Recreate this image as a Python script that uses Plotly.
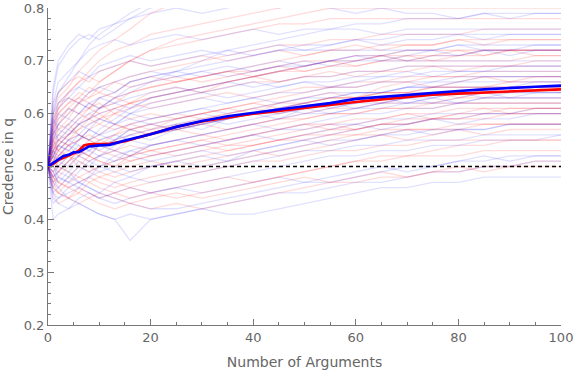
import plotly.graph_objects as go

run_x = [0, 1, 2, 4, 6, 8, 10, 13, 16, 20, 25, 30, 35, 40, 45, 50, 55, 60, 65, 70, 75, 80, 85, 90, 95, 100]

red_runs = [
    [.5,.48,.47,.46,.45,.44,.45,.44,.43,.42,.43,.42,.43,.44,.45,.46,.47,.47,.48,.48,.49,.49,.50,.50,.50,.50],
    [.5,.46,.45,.44,.46,.45,.44,.45,.46,.45,.44,.45,.46,.47,.48,.49,.50,.51,.51,.52,.52,.52,.53,.53,.53,.53],
    [.5,.52,.50,.49,.48,.47,.48,.47,.46,.47,.48,.49,.50,.51,.51,.52,.53,.53,.54,.54,.55,.55,.55,.55,.55,.55],
    [.5,.55,.57,.58,.56,.55,.54,.53,.52,.53,.52,.53,.54,.54,.55,.55,.56,.56,.57,.57,.57,.58,.58,.58,.58,.58],
    [.5,.49,.51,.52,.53,.52,.51,.50,.51,.52,.53,.54,.53,.54,.55,.56,.57,.57,.58,.58,.59,.59,.59,.60,.60,.60],
    [.5,.53,.55,.56,.58,.59,.60,.58,.57,.56,.57,.56,.57,.58,.59,.59,.60,.60,.61,.61,.61,.62,.62,.62,.62,.62],
    [.5,.51,.52,.54,.55,.56,.55,.54,.55,.56,.57,.58,.57,.58,.59,.60,.61,.61,.62,.62,.62,.63,.63,.63,.63,.63],
    [.5,.46,.45,.47,.48,.49,.50,.51,.52,.53,.54,.55,.56,.57,.58,.59,.60,.60,.61,.61,.62,.62,.62,.62,.62,.62],
    [.5,.54,.56,.58,.60,.61,.62,.60,.59,.60,.59,.60,.61,.62,.61,.62,.63,.63,.64,.64,.64,.64,.65,.65,.65,.65],
    [.5,.50,.52,.53,.52,.54,.55,.56,.57,.58,.57,.58,.59,.60,.61,.62,.63,.63,.64,.64,.65,.65,.65,.66,.66,.66],
    [.5,.56,.58,.60,.62,.63,.64,.63,.62,.61,.62,.63,.64,.63,.64,.65,.65,.66,.66,.67,.67,.67,.67,.67,.67,.67],
    [.5,.48,.49,.51,.53,.55,.56,.58,.57,.58,.59,.60,.61,.62,.63,.64,.65,.65,.66,.66,.67,.67,.68,.68,.68,.68],
    [.5,.52,.54,.56,.57,.58,.59,.60,.61,.62,.63,.64,.65,.66,.66,.67,.67,.68,.68,.69,.69,.69,.69,.69,.69,.69],
    [.5,.53,.52,.54,.55,.57,.58,.60,.62,.63,.64,.65,.66,.67,.68,.68,.69,.69,.70,.70,.70,.70,.70,.70,.71,.71],
    [.5,.57,.60,.62,.63,.62,.61,.63,.64,.65,.66,.67,.68,.68,.69,.70,.70,.71,.71,.72,.72,.72,.72,.72,.72,.72],
    [.5,.51,.53,.55,.57,.59,.61,.62,.64,.65,.66,.67,.68,.69,.70,.71,.72,.72,.73,.73,.73,.74,.74,.74,.74,.74],
    [.5,.55,.58,.61,.63,.65,.64,.66,.67,.68,.69,.70,.71,.72,.73,.73,.74,.74,.75,.75,.75,.75,.76,.76,.76,.76],
    [.5,.58,.62,.64,.66,.67,.66,.68,.70,.72,.73,.74,.75,.76,.77,.77,.78,.78,.78,.78,.78,.78,.78,.78,.78,.78],
    [.5,.54,.57,.59,.62,.64,.66,.68,.70,.72,.74,.75,.76,.77,.78,.79,.80,.80,.80,.80,.80,.80,.80,.80,.80,.80],
    [.5,.60,.63,.65,.68,.70,.72,.74,.76,.79,.81,.82,.83,.83,.83,.84,.84,.84,.84,.84,.84,.84,.84,.84,.84,.84],
    [.5,.49,.47,.46,.47,.48,.47,.46,.47,.48,.49,.50,.51,.52,.53,.54,.55,.56,.56,.57,.57,.57,.58,.58,.58,.58],
    [.5,.51,.50,.52,.51,.50,.49,.48,.49,.50,.51,.52,.53,.54,.55,.56,.56,.57,.58,.58,.59,.59,.60,.60,.60,.60],
    [.5,.54,.53,.55,.56,.55,.54,.55,.56,.57,.58,.59,.60,.61,.62,.62,.63,.63,.64,.64,.65,.65,.65,.65,.65,.65],
    [.5,.47,.48,.50,.52,.54,.53,.52,.51,.52,.53,.54,.55,.56,.57,.58,.58,.59,.59,.60,.60,.61,.61,.61,.61,.61],
    [.5,.59,.61,.63,.62,.61,.60,.61,.62,.63,.64,.65,.66,.67,.68,.69,.70,.70,.71,.71,.71,.71,.72,.72,.72,.72],
    [.5,.45,.43,.44,.45,.47,.46,.45,.44,.45,.46,.47,.48,.47,.48,.49,.50,.51,.52,.52,.53,.54,.54,.55,.55,.55],
    [.5,.53,.55,.54,.52,.51,.52,.53,.54,.53,.54,.55,.54,.55,.56,.57,.58,.57,.58,.59,.59,.60,.60,.61,.61,.61],
    [.5,.57,.59,.61,.60,.59,.58,.57,.58,.59,.60,.59,.60,.61,.60,.61,.62,.63,.62,.63,.64,.63,.64,.64,.65,.64],
    [.5,.62,.64,.66,.67,.66,.68,.69,.70,.69,.70,.71,.70,.71,.72,.71,.72,.73,.72,.73,.73,.74,.73,.74,.74,.74],
    [.5,.52,.55,.57,.59,.61,.63,.64,.66,.67,.66,.67,.68,.67,.68,.69,.70,.69,.70,.71,.70,.71,.71,.72,.71,.71],
    [.5,.48,.46,.48,.50,.52,.51,.50,.52,.54,.55,.56,.55,.56,.57,.58,.57,.58,.59,.60,.59,.60,.61,.60,.61,.61],
    [.5,.58,.61,.64,.66,.68,.70,.72,.73,.75,.76,.77,.78,.79,.80,.81,.82,.82,.82,.82,.82,.82,.82,.82,.82,.82],
    [.5,.50,.49,.51,.53,.52,.54,.56,.58,.57,.59,.60,.61,.60,.62,.63,.64,.63,.65,.66,.65,.66,.67,.66,.67,.67],
    [.5,.55,.53,.52,.50,.49,.48,.49,.50,.51,.50,.51,.52,.53,.52,.53,.54,.55,.56,.55,.56,.57,.56,.57,.57,.57],
    [.5,.51,.54,.56,.58,.60,.59,.61,.62,.64,.65,.64,.66,.67,.66,.67,.68,.67,.68,.68,.69,.68,.69,.69,.70,.70],
    [.5,.47,.45,.44,.43,.44,.43,.42,.43,.44,.45,.44,.45,.46,.47,.48,.47,.48,.49,.48,.49,.50,.49,.50,.51,.51],
    [.5,.56,.60,.62,.64,.63,.65,.66,.65,.66,.67,.66,.67,.68,.69,.68,.69,.70,.71,.70,.71,.72,.71,.72,.72,.72],
]

blue_runs = [
    [.5,.40,.41,.42,.43,.42,.41,.40,.41,.40,.41,.42,.41,.41,.42,.43,.44,.45,.46,.46,.47,.47,.48,.48,.48,.48],
    [.5,.47,.46,.44,.43,.42,.41,.40,.36,.40,.41,.42,.43,.44,.45,.45,.46,.47,.47,.48,.49,.49,.50,.50,.51,.51],
    [.5,.45,.44,.45,.46,.45,.44,.45,.46,.45,.46,.47,.48,.49,.50,.51,.52,.52,.53,.53,.54,.54,.55,.55,.55,.56],
    [.5,.48,.49,.48,.47,.48,.49,.50,.49,.50,.51,.50,.51,.52,.53,.54,.55,.55,.56,.56,.57,.57,.57,.58,.58,.58],
    [.5,.52,.51,.50,.52,.51,.50,.52,.53,.52,.53,.54,.55,.56,.57,.57,.58,.58,.59,.59,.60,.60,.60,.60,.61,.61],
    [.5,.55,.56,.55,.54,.53,.55,.56,.55,.54,.55,.56,.57,.58,.57,.58,.59,.60,.60,.61,.61,.62,.62,.62,.62,.62],
    [.5,.53,.54,.53,.55,.57,.56,.55,.56,.57,.58,.59,.58,.59,.60,.61,.60,.61,.62,.62,.63,.62,.63,.63,.63,.63],
    [.5,.49,.50,.52,.53,.54,.53,.55,.57,.58,.57,.58,.59,.60,.61,.60,.61,.62,.62,.63,.63,.64,.64,.64,.64,.64],
    [.5,.58,.60,.59,.58,.57,.56,.57,.58,.59,.60,.61,.60,.61,.62,.63,.63,.64,.64,.65,.65,.65,.65,.65,.66,.66],
    [.5,.51,.53,.55,.56,.58,.59,.58,.60,.61,.62,.63,.62,.63,.64,.64,.65,.65,.66,.66,.66,.67,.67,.67,.67,.67],
    [.5,.56,.59,.61,.60,.62,.63,.62,.63,.64,.65,.64,.65,.66,.65,.66,.66,.67,.67,.67,.68,.68,.68,.68,.68,.68],
    [.5,.54,.55,.57,.59,.60,.61,.62,.61,.63,.64,.65,.66,.65,.66,.67,.67,.68,.68,.69,.69,.69,.69,.69,.69,.69],
    [.5,.60,.62,.64,.65,.64,.65,.66,.67,.68,.67,.68,.69,.68,.69,.69,.70,.70,.70,.70,.70,.70,.70,.70,.70,.70],
    [.5,.57,.61,.63,.65,.67,.68,.69,.70,.69,.70,.71,.72,.71,.72,.72,.72,.72,.72,.72,.72,.73,.72,.72,.72,.72],
    [.5,.62,.66,.68,.70,.72,.73,.74,.73,.74,.75,.74,.75,.76,.75,.76,.76,.76,.75,.76,.76,.76,.76,.76,.76,.76],
    [.5,.64,.69,.72,.74,.75,.74,.76,.78,.80,.81,.82,.83,.83,.84,.84,.84,.84,.84,.84,.84,.84,.84,.84,.84,.84],
    [.5,.60,.64,.67,.70,.73,.75,.77,.79,.81,.83,.84,.85,.85,.85,.85,.85,.85,.85,.85,.85,.85,.85,.85,.85,.85],
    [.5,.52,.54,.56,.58,.59,.61,.63,.64,.66,.68,.70,.72,.73,.74,.75,.76,.77,.77,.78,.78,.78,.79,.79,.79,.79],
    [.5,.47,.49,.51,.52,.53,.54,.53,.55,.56,.57,.58,.59,.60,.60,.61,.62,.62,.63,.63,.64,.64,.64,.65,.65,.65],
    [.5,.45,.46,.48,.50,.49,.50,.51,.52,.51,.52,.53,.52,.53,.54,.55,.56,.57,.58,.58,.59,.59,.60,.60,.60,.60],
    [.5,.50,.48,.47,.49,.51,.52,.54,.56,.55,.57,.58,.59,.60,.61,.62,.63,.64,.64,.65,.66,.66,.67,.67,.67,.67],
    [.5,.43,.44,.46,.47,.46,.45,.47,.48,.47,.48,.49,.50,.51,.52,.53,.53,.54,.54,.55,.55,.55,.56,.56,.56,.56],
    [.5,.55,.58,.60,.62,.61,.63,.64,.66,.67,.68,.69,.70,.71,.72,.73,.73,.74,.74,.75,.75,.75,.75,.75,.75,.75],
    [.5,.59,.57,.56,.58,.59,.60,.61,.60,.59,.60,.61,.62,.63,.62,.63,.64,.64,.64,.65,.65,.66,.66,.66,.66,.66],
    [.5,.53,.51,.52,.54,.53,.52,.51,.53,.54,.55,.56,.57,.58,.59,.60,.60,.61,.61,.62,.62,.62,.63,.63,.63,.63],
    [.5,.44,.43,.42,.44,.45,.44,.43,.44,.45,.46,.45,.46,.47,.48,.47,.48,.49,.50,.49,.50,.51,.52,.51,.52,.52],
    [.5,.56,.58,.57,.56,.55,.56,.58,.59,.58,.59,.60,.59,.60,.61,.62,.61,.62,.63,.62,.63,.64,.63,.64,.64,.64],
    [.5,.61,.64,.66,.68,.67,.69,.70,.71,.70,.71,.72,.71,.72,.73,.72,.73,.74,.73,.74,.74,.75,.74,.75,.75,.75],
    [.5,.49,.47,.49,.51,.50,.52,.53,.52,.54,.55,.54,.55,.56,.55,.56,.57,.58,.57,.58,.59,.58,.59,.59,.60,.60],
    [.5,.53,.56,.58,.60,.62,.61,.63,.65,.66,.67,.68,.67,.68,.69,.70,.69,.70,.71,.70,.71,.71,.72,.71,.72,.72],
    [.5,.46,.48,.47,.46,.48,.50,.49,.48,.50,.51,.52,.51,.53,.54,.55,.54,.55,.56,.57,.56,.57,.57,.58,.58,.58],
    [.5,.65,.70,.73,.75,.74,.76,.77,.78,.79,.80,.79,.80,.81,.80,.81,.80,.79,.80,.79,.79,.78,.79,.78,.79,.79],
    [.5,.52,.54,.53,.55,.57,.59,.58,.60,.62,.63,.64,.63,.64,.65,.66,.65,.66,.67,.68,.67,.68,.68,.69,.69,.69],
    [.5,.57,.55,.54,.53,.52,.54,.55,.57,.56,.58,.57,.59,.60,.59,.61,.62,.61,.62,.63,.62,.63,.64,.63,.64,.64],
    [.5,.50,.52,.54,.56,.55,.57,.59,.61,.63,.64,.65,.66,.67,.68,.69,.70,.71,.71,.72,.72,.73,.73,.73,.73,.73],
    [.5,.48,.50,.49,.47,.46,.45,.44,.43,.42,.42,.43,.44,.45,.46,.47,.47,.48,.49,.50,.50,.51,.51,.52,.52,.52],
    [.5,.59,.62,.63,.62,.64,.65,.64,.66,.67,.68,.67,.68,.69,.70,.69,.70,.71,.70,.71,.72,.71,.72,.72,.73,.73],
]

mean_x = [0, 1, 2, 3, 4, 5, 6, 7, 8, 10, 12, 15, 20, 25, 30, 35, 40, 45, 50, 55, 60, 65, 70, 75, 80, 85, 90, 95, 100]
red_mean = [.500,.505,.512,.516,.520,.525,.530,.540,.542,.542,.543,.548,.562,.575,.585,.593,.600,.605,.611,.616,.622,.627,.632,.636,.638,.640,.642,.645,.646]
blue_mean = [.500,.507,.514,.520,.522,.527,.527,.533,.538,.540,.541,.549,.561,.575,.586,.595,.602,.608,.614,.620,.628,.632,.636,.640,.643,.646,.649,.651,.653]

baseline_y = 0.5
x_ticks = [0, 20, 40, 60, 80, 100]
y_ticks = [0.2, 0.3, 0.4, 0.5, 0.6, 0.7, 0.8]

fig = go.Figure()
for run in red_runs:
    fig.add_trace(go.Scatter(x=run_x, y=run, mode="lines", hoverinfo="skip",
                             line=dict(color="rgba(255,0,0,0.14)", width=1.3)))
for run in blue_runs:
    fig.add_trace(go.Scatter(x=run_x, y=run, mode="lines", hoverinfo="skip",
                             line=dict(color="rgba(0,0,255,0.12)", width=1.3)))

fig.add_trace(go.Scatter(x=[0, 100], y=[baseline_y, baseline_y], mode="lines",
                         line=dict(color="black", width=1.6, dash="4px,3px")))
fig.add_trace(go.Scatter(x=mean_x, y=red_mean, mode="lines",
                         line=dict(color="rgb(255,0,0)", width=2.6)))
fig.add_trace(go.Scatter(x=mean_x, y=blue_mean, mode="lines",
                         line=dict(color="rgb(0,0,255)", width=2.6)))

font_col = "#666666"
ax_col = "#777777"
fig.update_layout(
    width=576, height=370,
    margin=dict(l=48, r=15, t=8, b=45),
    paper_bgcolor="white", plot_bgcolor="white",
    showlegend=False,
    font=dict(family="DejaVu Sans, sans-serif", size=13, color=font_col),
)
fig.update_xaxes(
    range=[0, 100], tickvals=x_ticks, showgrid=False, zeroline=False, automargin=False,
    ticklabeloverflow="allow",
    showline=True, linecolor=ax_col, linewidth=1,
    ticks="inside", ticklen=6, tickcolor=ax_col,
    minor=dict(dtick=5, ticks="inside", ticklen=3, tickcolor=ax_col),
    title=dict(text="Number of Arguments", font=dict(size=14, color=font_col)),
)
fig.update_yaxes(
    range=[0.2, 0.8], tickvals=y_ticks, tickformat=".1f", showgrid=False, zeroline=False, automargin=False,
    ticklabeloverflow="allow",
    showline=True, linecolor=ax_col, linewidth=1,
    ticks="inside", ticklen=6, tickcolor=ax_col,
    minor=dict(dtick=0.02, ticks="inside", ticklen=3, tickcolor=ax_col),
    title=dict(text="Credence in q", font=dict(size=14, color=font_col)),
)

fig.write_html("out.html", config={"displayModeBar": False},
               post_script="document.body.style.margin='0px';")
